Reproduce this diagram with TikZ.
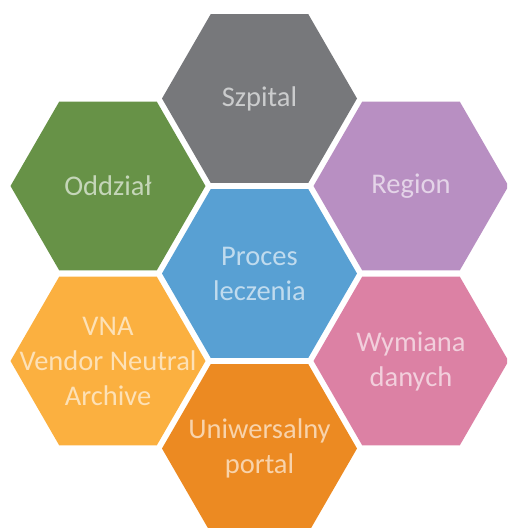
\documentclass[tikz,border=0pt]{standalone}
\usepackage{fontspec}
\setmainfont{Carlito}
\usetikzlibrary{shapes.geometric}
\definecolor{szary}{HTML}{77787B}
\definecolor{zielony}{HTML}{679247}
\definecolor{lila}{HTML}{B88FC2}
\definecolor{niebieski}{HTML}{58A0D3}
\definecolor{zolty}{HTML}{FBB040}
\definecolor{pomarancz}{HTML}{EC8A22}
\definecolor{rozowy}{HTML}{DC81A4}
\begin{document}
\begin{tikzpicture}[x=1pt,y=-1pt,
    hex/.style={regular polygon, regular polygon sides=6, minimum size=195pt,
                inner sep=0pt, fill=#1},
    napis/.style={text=#1!38!white, align=center,
                  font=\fontsize{28.5}{35}\selectfont}]
    \clip (0,0) rectangle (507,528);

    % plaster miodu
    \node[hex=szary]     (szpital) at (259.5,98.5)  {};
    \node[hex=zielony]   (oddzial) at (108,186)     {};
    \node[hex=lila]      (region)  at (411,186)     {};
    \node[hex=niebieski] (proces)  at (259.5,273.5) {};
    \node[hex=zolty]     (vna)     at (108,361)     {};
    \node[hex=rozowy]    (wymiana) at (411,361)     {};
    \node[hex=pomarancz] (portal)  at (259.5,448.5) {};

    % podpisy
    \node[napis=szary]     (t-szpital) at (szpital) {Szpital};
    \node[napis=zielony]   (t-oddzial) at (oddzial) {Oddział};
    \node[napis=lila]      (t-region)  at (region)  {Region};
    \node[napis=niebieski] (t-proces)  at (proces)  {Proces\\leczenia};
    \node[napis=zolty]     (t-vna)     at (vna)     {VNA\\Vendor Neutral\\Archive};
    \node[napis=rozowy]    (t-wymiana) at (wymiana) {Wymiana\\danych};
    \node[napis=pomarancz] (t-portal)  at (portal)  {Uniwersalny\\portal};
\end{tikzpicture}
\end{document}
